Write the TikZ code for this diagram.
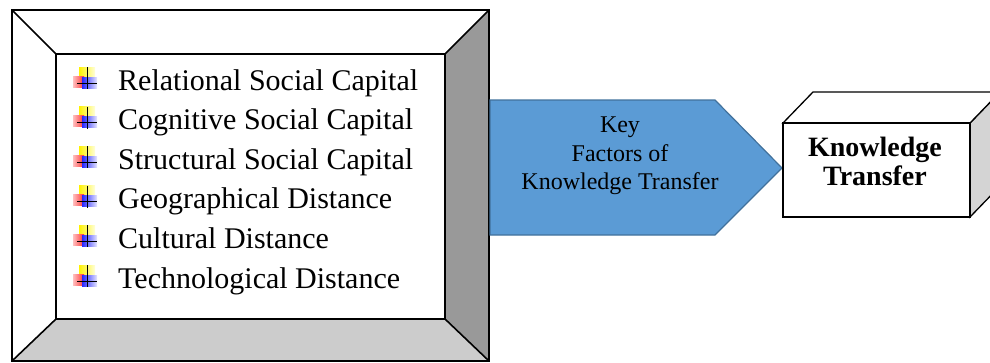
\documentclass[tikz,border=0pt]{standalone}
\usepackage{fontspec}
\setmainfont{Liberation Serif}
\usetikzlibrary{positioning}

\definecolor{bevelDark}{HTML}{999999}
\definecolor{bevelLight}{HTML}{CCCCCC}
\definecolor{keyBlue}{HTML}{5B9BD5}
\definecolor{keyEdge}{HTML}{41719C}
\definecolor{cubeSide}{HTML}{D4D4D4}

% icono de viñeta, centrado en la cruz
\newcommand{\ktbullet}[1]{%
  \begin{scope}[shift={(#1)}]
    \shade[left color=yellow!90!orange, right color=yellow!15] (-8,-16) rectangle (8,-6);
    \shade[left color=red!25, right color=red!80] (-14,-7) rectangle (-3,4);
    \shade[left color=blue!85, right color=blue!10] (-5,-6) rectangle (10,5);
    \draw[line width=1pt] (0,-16) -- (0,6);
    \draw[line width=1pt] (-10,0) -- (10,0);
  \end{scope}}

\begin{document}
\begin{tikzpicture}[x=1pt,y=-1pt,
    frameline/.style={line width=1.6pt},
    cubeline/.style={line width=1.3pt},
    itemtext/.style={anchor=base west, inner sep=0pt, font=\fontsize{30}{36}\selectfont}]
  \useasboundingbox (0,0) rectangle (990,362);

  % marco biselado
  \fill[bevelDark] (445,54) -- (489,10) -- (489,361) -- (445,319) -- cycle;
  \fill[bevelLight] (56,319) -- (445,319) -- (489,361) -- (12,361) -- cycle;
  \draw[frameline] (12,10) rectangle (489,361);
  \draw[frameline] (56,54) rectangle (445,319);
  \draw[frameline] (12,10) -- (56,54);
  \draw[frameline] (489,10) -- (445,54);
  \draw[frameline] (489,361) -- (445,319);
  \draw[frameline] (12,361) -- (56,319);

  % lista de factores
  \foreach \txt [count=\i] in {Relational Social Capital, Cognitive Social Capital,
      Structural Social Capital, Geographical Distance, Cultural Distance,
      Technological Distance} {
    \pgfmathsetmacro{\yb}{90+39.6*(\i-1)}
    \ktbullet{87,\yb-7}
    \node[itemtext] (item\i) at (118,\yb) {\txt};
  }

  % flecha central
  \draw[keyEdge, fill=keyBlue, line width=1.2pt]
    (490,100) -- (715,100) -- (782,168) -- (715,235) -- (490,235) -- cycle;
  \node[align=center, inner sep=0pt, font=\fontsize{24}{28.5}\selectfont] (key) at (620,156)
    {Key\\Factors of\\Knowledge Transfer};

  % cubo
  \draw[cubeline, fill=cubeSide] (970,123) -- (1000,92) -- (1000,186) -- (970,217) -- cycle;
  \draw[cubeline, fill=white] (783,123) -- (813,92) -- (1000,92) -- (970,123) -- cycle;
  \draw[cubeline, fill=white] (783,123) rectangle (970,217);
  \node[align=center, inner sep=0pt, font=\bfseries\fontsize{28}{29}\selectfont] (kt) at (875,161)
    {Knowledge\\Transfer};
\end{tikzpicture}
\end{document}
